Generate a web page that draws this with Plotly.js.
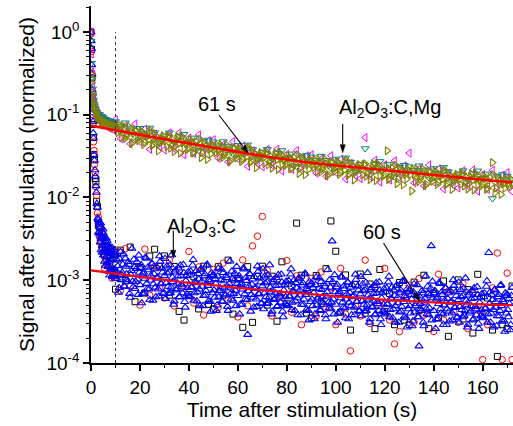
<!DOCTYPE html>
<html>
<head>
<meta charset="utf-8">
<script src="https://cdn.plot.ly/plotly-3.0.1.min.js"></script>
<style>html,body{margin:0;padding:0;background:#fff;}#chart{width:513px;height:426px;}</style>
</head>
<body>
<div id="chart"></div>
<script>
// ---------------- DATA ----------------
// Upper group (Al2O3:C,Mg) values are stored in units of 1e-4 of the normalized signal.
// Lower group (Al2O3:C) values are stored in units of 1e-5 of the normalized signal.
const UPPER_UNIT = 1e-4;
const LOWER_UNIT = 1e-5;

// sample times (s) of the fast initial decay
const tEarly = [0, 0.2, 0.4, 0.6, 0.8, 1.0, 1.2, 1.4, 1.7, 2.0, 2.3, 2.6, 3.0, 3.4, 3.8, 4.2, 4.6, 5.0, 5.5, 6.0, 6.5, 7.0, 7.5, 8.0, 8.5, 9.0, 9.5];
const tEarlyBlue = [0, 0.1, 0.2, 0.3, 0.4, 0.5, 0.6, 0.7, 0.8, 0.9, 1.0, 1.2, 1.4, 1.6, 1.8, 2.0, 2.2, 2.4, 2.6, 2.8, 3.0, 3.25, 3.5, 3.75, 4.0, 4.25, 4.5, 4.75, 5.0, 5.25, 5.5, 5.75, 6.0, 6.25, 6.5, 6.75, 7.0, 7.25, 7.5, 7.75, 8.0, 8.25, 8.5, 8.75, 9.0, 9.25, 9.5, 9.75];
const tEarlyBlue2 = [3.1, 3.4, 3.6, 3.9, 4.1, 4.4, 4.6, 4.9, 5.1, 5.4, 5.6, 5.9, 6.1, 6.4, 6.6, 6.9, 7.1, 7.4, 7.6, 7.9, 8.1, 8.4, 8.6, 8.9, 9.1, 9.4, 9.6, 9.9];
// the slow tails are regularly sampled (start time, step in s)
const OLIVE_A = [10, 1], OLIVE_B = [10.5, 1];
const SPARSE = [10, 2];
const BLUE_A = [10, 0.5], BLUE_B = [10.25, 0.5];

// ---- Al2O3:C,Mg (units 1e-4) ----
const mgMagentaEarly = [10000, 5400, 3300, 2200, 1800, 1550, 1450, 1150, 1230, 980, 1120, 900, 1010, 850, 960, 800, 910, 760, 870, 740, 830, 700, 800, 680, 770, 660, 750];
const mgTealEarly = [7800, 4200, 2700, 2050, 1700, 1500, 1350, 1260, 1180, 1110, 1060, 1020, 990, 1010, 940, 960, 900, 920, 860, 880, 820, 850, 800, 830, 780, 800, 760];
const mgOliveEarly = [3100, 2800, 2450, 1850, 1700, 1420, 1360, 1180, 1150, 1020, 1040, 930, 950, 870, 900, 830, 860, 790, 820, 760, 800, 740, 770, 710, 750, 690, 720];

const mgMagentaTail = [
  875, 513, 735, 446, 775, 469, 671, 382, 586, 411,
  375, 605, 388, 605, 328, 523, 340, 573, 353, 488,
  500, 297, 435, 269, 475, 292, 418, 238, 366, 257,
  235, 381, 245, 384, 209, 334, 218, 370, 229, 319,
  329, 197, 291, 181, 321, 200, 289, 167, 259, 183,
  169, 530, 178, 282, 154, 248, 162, 277, 173, 242,
  344, 150, 222, 138, 247, 153, 222, 127, 198, 141,
  130, 211, 137, 216, 119, 190, 125, 213, 133, 186,
  200, 118];
const mgTealTail = [
  826, 729, 800, 694, 548, 686, 593, 693, 608, 458,
  558, 605, 461, 544, 582, 469, 525, 371, 475, 496,
  472, 422, 474, 419, 336, 427, 369, 432, 380, 286,
  350, 381, 291, 345, 370, 300, 337, 239, 308, 324,
  310, 280, 316, 281, 227, 293, 255, 302, 268, 204,
  252, 390, 212, 253, 273, 223, 251, 179, 233, 246,
  236, 213, 242, 215, 175, 224, 196, 231, 205, 157,
  193, 211, 162, 194, 210, 171, 193, 97, 179, 189,
  182, 164];
const mgOliveTailA = [
  735, 607, 655, 739, 516, 594, 632, 462, 644, 531,
  532, 623, 470, 547, 628, 421, 512, 547, 447, 518,
  507, 411, 560, 441, 359, 508, 449, 552, 393, 448,
  401, 459, 348, 475, 414, 302, 466, 382, 410, 336,
  420, 348, 379, 433, 306, 355, 381, 280, 394, 328,
  331, 387, 292, 341, 391, 263, 320, 342, 280, 325,
  318, 258, 353, 278, 226, 321, 285, 350, 250, 285,
  256, 294, 224, 305, 267, 195, 303, 248, 268, 220,
  276, 230, 251, 288, 204, 238, 256, 189, 267, 224,
  227, 267, 202, 238, 274, 185, 226, 243, 200, 233,
  229, 187, 255, 203, 165, 235, 209, 258, 184, 212,
  190, 367, 167, 229, 200, 147, 229, 188, 203, 167,
  210, 120, 191, 220, 156, 182, 196, 145, 205, 171,
  174, 205, 155, 182, 209, 141, 173, 186, 153, 178,
  175, 143, 195, 155, 127, 180, 161, 198, 142, 162,
  146, 168, 128, 175, 264, 113, 175, 144, 156, 129,
  162, 135, 147];
const mgOliveTailB = [
  660, 750, 534, 665, 555, 720, 448, 596, 631, 486,
  637, 438, 556, 495, 646, 440, 551, 366, 485, 556,
  479, 548, 394, 497, 419, 547, 343, 460, 492, 381,
  502, 346, 438, 390, 509, 347, 435, 288, 383, 438,
  378, 432, 311, 392, 331, 432, 271, 363, 387, 301,
  396, 273, 346, 308, 402, 275, 344, 229, 304, 349,
  300, 344, 248, 313, 264, 346, 218, 292, 312, 243,
  320, 222, 281, 251, 328, 225, 282, 188, 250, 288,
  249, 286, 206, 261, 221, 290, 183, 246, 263, 206,
  272, 189, 240, 215, 282, 194, 243, 163, 217, 251,
  217, 250, 180, 228, 193, 254, 160, 216, 231, 181,
  239, 165, 210, 188, 246, 169, 213, 142, 190, 218,
  189, 218, 157, 199, 169, 222, 139, 188, 202, 157,
  208, 144, 184, 165, 215, 148, 186, 125, 166, 191,
  165, 190, 138, 174, 148, 194, 123, 165, 178, 138,
  183, 126, 161, 144, 189, 130, 163, 109, 146, 168,
  145, 167];

// ---- Al2O3:C (units 1e-5) ----
const cBlackEarly = [100000, 62000, 28000, 16000, 7600, 5300, 3300, 2850, 1700, 1550, 900, 780, 460, 440, 300, 380, 250, 330, 200, 280, 170, 250, 160, 220, 130, 205, 125];
const cRedEarly = [95000, 58000, 32000, 14000, 8600, 4700, 3700, 2500, 2000, 1350, 1050, 650, 580, 340, 420, 270, 360, 220, 140, 180, 260, 150, 240, 140, 106, 120, 195];
const cBlueEarly = [100000, 78000, 63000, 40000, 31000, 20000, 15500, 10500, 8300, 6000, 5200, 3300, 2800, 2150, 1800, 1380, 1150, 840, 760, 560,
  536, 387, 468, 288, 442, 320, 216, 328, 373, 219, 169, 298, 219, 322, 161, 228, 264, 128, 169, 218, 248, 134, 176, 115, 205, 138, 231, 112];
const cBlueEarly2 = [376, 500, 361, 490, 232, 345, 260, 414, 201, 265, 317, 151, 268, 195, 300, 146, 214, 247, 115, 179, 214, 133, 247, 110, 178, 132, 211, 105];

const cBlackTail = [
  78, 231, 99, 252, 55, 143, 70, 196, 237, 148,
  197, 66, 147, 42, 33, 67, 110, 45, 148, 51,
  45, 146, 66, 175, 39, 105, 27, 146, 31, 112,
  148, 50, 112, 32, 167, 52, 85, 490, 115, 40,
  35, 114, 52, 138, 520, 224, 41, 116, 25, 89,
  119, 40, 90, 26, 135, 42, 69, 29, 94, 33,
  29, 95, 43, 115, 26, 70, 35, 98, 21, 76,
  101, 34, 77, 23, 118, 37, 61, 25, 12, 29,
  26, 85];
const cRedTail = [
  233, 75, 241, 84, 143, 50, 238, 66, 146, 82,
  61, 174, 49, 130, 80, 223, 53, 145, 38, 101,
  135, 47, 161, 58, 103, 36, 176, 49, 260, 340,
  590, 132, 37, 99, 62, 173, 41, 113, 29, 79,
  105, 37, 126, 46, 81, 29, 139, 39, 14, 49,
  37, 175, 30, 80, 50, 139, 33, 17, 24, 65,
  87, 31, 105, 38, 68, 24, 118, 33, 74, 42,
  31, 91, 26, 69, 44, 11, 29, 81, 213, 11,
  122, 11];
const cBlueTailA = [
  203, 105, 149, 81, 220, 117, 155, 85, 184, 119, 96, 155, 62, 130, 97, 178, 79, 138, 103, 200,
  88, 153, 69, 125, 105, 183, 79, 133, 58, 114, 158, 90, 137, 63, 105, 78, 196, 91, 139, 69,
  113, 60, 148, 84, 125, 70, 202, 96, 56, 132, 79, 112, 63, 151, 89, 70, 123, 47, 113, 81,
  65, 115, 82, 152, 57, 97, 130, 72, 103, 49, 137, 84, 65, 119, 75, 155, 56, 96, 42, 113,
  117, 62, 91, 50, 139, 75, 101, 56, 123, 80, 66, 107, 43, 91, 69, 128, 57, 100, 75, 146,
  65, 113, 51, 92, 78, 136, 59, 99, 22, 85, 118, 67, 103, 47, 79, 59, 148, 69, 106, 52,
  85, 45, 112, 63, 95, 53, 153, 73, 42, 101, 60, 86, 48, 116, 68, 54, 95, 36, 87, 63,
  50, 89, 64, 118, 44, 75, 101, 56, 80, 38, 106, 66, 51, 93, 59, 121, 44, 75, 33, 88,
  92, 49, 71, 39, 109, 59, 79, 44, 96, 63, 51, 84, 34, 72, 54, 101, 45, 297, 59, 116,
  51, 89, 40, 73, 61, 108, 47, 79, 35, 68, 94, 54, 82, 38, 63, 47, 118, 55, 85, 42,
  68, 37, 90, 51, 76, 43, 123, 59, 34, 81, 48, 69, 38, 93, 55, 43, 76, 29, 70, 51,
  41, 72, 51, 95, 36, 61, 82, 45, 65, 31, 87, 53, 41, 76, 48, 99, 36, 61, 27, 72,
  76, 40, 59, 32, 90, 49, 65, 36, 16, 52, 43, 70, 28, 60, 45, 84, 38, 66, 260, 97,
  43, 75, 34, 62, 52, 91, 40, 67, 29, 57, 80, 45, 70, 32, 54, 40, 101, 47, 72, 35,
  58, 31, 77, 44, 65, 37, 106, 51, 29, 70, 42, 60, 33, 81, 48, 38, 67, 26, 61, 44,
  36, 63, 45, 84, 31, 215, 72, 40, 58, 27, 77, 47, 37, 67, 43, 88, 32, 55, 24, 65,
  68, 36, 52, 29, 81];
const cBlueTailB = [
  131, 175, 71, 181, 101, 124, 207, 84, 147, 101, 167, 69, 118, 242, 83, 145, 96, 167, 67, 124,
  142, 53, 119, 69, 189, 91, 143, 78, 100, 160, 57, 119, 82, 147, 109, 64, 168, 90, 125, 71,
  182, 93, 122, 69, 154, 82, 108, 51, 125, 76, 92, 140, 63, 113, 84, 154, 55, 99, 68, 126,
  63, 128, 83, 177, 70, 93, 56, 120, 78, 135, 97, 49, 112, 66, 151, 86, 101, 55, 123, 70,
  76, 104, 43, 112, 63, 80, 135, 55, 98, 68, 114, 48, 82, 170, 59, 104, 69, 121, 49, 91,
  104, 39, 88, 51, 140, 68, 107, 58, 74, 120, 42, 89, 62, 110, 82, 48, 127, 68, 95, 53,
  137, 70, 92, 52, 117, 62, 82, 39, 95, 58, 70, 107, 49, 87, 64, 118, 42, 76, 52, 97,
  49, 99, 64, 137, 54, 72, 43, 93, 61, 105, 76, 38, 87, 51, 118, 67, 79, 43, 96, 55,
  59, 81, 34, 88, 50, 62, 106, 43, 77, 54, 90, 38, 64, 134, 46, 82, 54, 96, 39, 72,
  83, 31, 69, 41, 111, 54, 85, 46, 59, 95, 34, 71, 49, 88, 66, 38, 102, 55, 76, 43,
  110, 56, 74, 42, 94, 50, 66, 31, 77, 47, 57, 86, 39, 70, 52, 95, 34, 61, 42, 79,
  39, 80, 52, 111, 44, 59, 35, 76, 49, 86, 62, 31, 71, 42, 96, 55, 65, 35, 79, 45,
  49, 67, 28, 72, 41, 52, 88, 36, 64, 45, 75, 31, 54, 112, 39, 69, 46, 80, 33, 61,
  70, 26, 59, 34, 94, 45, 72, 39, 50, 81, 29, 60, 42, 75, 56, 33, 86, 47, 65, 36,
  94, 48, 63, 36, 80, 43, 57, 27, 66, 40, 49, 75, 34, 61, 45, 83, 30, 54, 37, 69,
  35, 70, 46, 98, 39, 52, 31, 67, 44, 76, 55, 28, 63, 37, 86, 49, 58, 32, 70, 40,
  44, 60, 25, 65];

// fitted decay curves (61 s and 60 s)
const fitTime = [0, 10, 20, 30, 40, 50, 60, 70, 80, 90, 100, 110, 120, 130, 140, 150, 160, 172];
const mgFit = [740, 650, 571, 507, 451, 400, 356, 318, 288, 263, 244, 229, 214, 200, 187, 175, 164, 152]; // 1e-4
const cFit = [132, 120, 110, 101, 93, 87, 81, 76, 72, 68, 64, 61, 58, 56, 54, 52.5, 51, 50];           // 1e-5

// axis ticks and texts
const xTickVals = [0, 20, 40, 60, 80, 100, 120, 140, 160];
const yTickVals = [1e-4, 1e-3, 1e-2, 1e-1, 1];
const yTickText = ['10<sup>-4</sup>', '10<sup>-3</sup>', '10<sup>-2</sup>', '10<sup>-1</sup>', '10<sup>0</sup>'];
const xTitle = 'Time after stimulation (s)';
const yTitle = 'Signal after stimulation (normalized)';
const labels = ['61 s', 'Al<sub>2</sub>O<sub>3</sub>:C,Mg', 'Al<sub>2</sub>O<sub>3</sub>:C', '60 s'];

// ---------------- PLOT ----------------
const up = a => a.map(v => v * UPPER_UNIT);
const lo = a => a.map(v => v * LOWER_UNIT);

function mk(color, symbol, size, lw) {
  return { symbol: symbol, size: size, color: color, line: { color: color, width: lw } };
}
const S = {
  black: mk('#000000', 'square-open', 6, 1),
  red: mk('#ff0000', 'circle-open', 6.5, 1),
  blue: mk('#0000ff', 'triangle-up-open', 7, 1.1),
  magenta: mk('#ff00ff', 'triangle-left-open', 7, 1),
  teal: mk('#008080', 'triangle-down-open', 7, 1),
  olive: mk('#808000', 'triangle-right-open', 7, 1.1)
};
function early(x, y, m) { return { type: 'scatter', mode: 'markers', x: x, y: y, marker: m, showlegend: false, hoverinfo: 'skip' }; }
function tail(y, samp, m) { return { type: 'scatter', mode: 'markers', x0: samp[0], dx: samp[1], y: y, marker: m, showlegend: false, hoverinfo: 'skip' }; }

const traces = [
  early(tEarly, lo(cBlackEarly), S.black), tail(lo(cBlackTail), SPARSE, S.black),
  early(tEarly, lo(cRedEarly), S.red), tail(lo(cRedTail), SPARSE, S.red),
  early(tEarlyBlue, lo(cBlueEarly), S.blue), early(tEarlyBlue2, lo(cBlueEarly2), S.blue),
  tail(lo(cBlueTailA), BLUE_A, S.blue), tail(lo(cBlueTailB), BLUE_B, S.blue),
  early(tEarly, up(mgMagentaEarly), S.magenta), tail(up(mgMagentaTail), SPARSE, S.magenta),
  early(tEarly, up(mgTealEarly), S.teal), tail(up(mgTealTail), SPARSE, S.teal),
  early(tEarly, up(mgOliveEarly), S.olive),
  tail(up(mgOliveTailA), OLIVE_A, S.olive), tail(up(mgOliveTailB), OLIVE_B, S.olive),
  { type: 'scatter', mode: 'lines', x: fitTime, y: up(mgFit), line: { color: '#ff0000', width: 2.6, shape: 'spline' }, showlegend: false, hoverinfo: 'skip' },
  { type: 'scatter', mode: 'lines', x: fitTime, y: lo(cFit), line: { color: '#ff0000', width: 2.2, shape: 'spline' }, showlegend: false, hoverinfo: 'skip' }
];

// plot-area geometry in pixels (for placing labels and arrows)
const M = { l: 91, r: 0, t: 6, b: 63 };
const W = 513, H = 426;
const PW = W - M.l - M.r, PH = H - M.t - M.b;
const px = x => (x - M.l) / PW;
const py = y => (H - M.b - y) / PH;

function arrowShapes(tx, ty, hx, hy) {
  const dx = hx - tx, dy = hy - ty, L = Math.hypot(dx, dy);
  const ux = dx / L, uy = dy / L, len = 8, hw = 2.6;
  const bx = hx - ux * len, by = hy - uy * len;
  const p1 = [bx - uy * hw, by + ux * hw], p2 = [bx + uy * hw, by - ux * hw];
  return [
    { type: 'line', xref: 'paper', yref: 'paper', x0: px(tx), y0: py(ty), x1: px(bx), y1: py(by), line: { color: '#000', width: 1.1 } },
    { type: 'path', xref: 'paper', yref: 'paper', fillcolor: '#000', line: { color: '#000', width: 0.5 },
      path: 'M' + px(hx) + ',' + py(hy) + 'L' + px(p1[0]) + ',' + py(p1[1]) + 'L' + px(p2[0]) + ',' + py(p2[1]) + 'Z' }
  ];
}

const FONT = 'Liberation Sans, Arial, Helvetica, sans-serif';
function label(text, x, y) {
  return { text: text, xref: 'paper', yref: 'paper', x: px(x), y: py(y), showarrow: false,
    xanchor: 'center', yanchor: 'middle', font: { family: FONT, size: 20, color: '#000' } };
}

const layout = {
  width: W, height: H, margin: M,
  paper_bgcolor: '#fff', plot_bgcolor: '#fff',
  font: { family: FONT, size: 19, color: '#000' },
  xaxis: {
    range: [0, 172.4], showgrid: false, zeroline: false,
    showline: true, linecolor: '#000', linewidth: 1.5,
    ticks: 'outside', ticklen: 6, tickwidth: 1.5, tickcolor: '#000',
    tickmode: 'array', tickvals: xTickVals,
    minor: { dtick: 10, tick0: 0, ticks: 'outside', ticklen: 3.5, tickwidth: 1.2, tickcolor: '#000' },
    tickfont: { size: 19 },
    title: { text: xTitle, font: { size: 21 }, standoff: 4 }
  },
  yaxis: {
    type: 'log', range: [-4, 0.314], showgrid: false, zeroline: false,
    showline: true, linecolor: '#000', linewidth: 1.5,
    ticks: 'outside', ticklen: 6, tickwidth: 1.5, tickcolor: '#000',
    tickmode: 'array', tickvals: yTickVals, ticktext: yTickText,
    minor: { dtick: 'D1', ticks: 'outside', ticklen: 3.5, tickwidth: 1.2, tickcolor: '#000' },
    tickfont: { size: 19 },
    title: { text: yTitle, font: { size: 21 }, standoff: 6 }
  },
  shapes: [
    { type: 'line', xref: 'x', yref: 'paper', x0: 10, x1: 10, y0: 0, y1: py(32), line: { color: '#333', width: 1, dash: 'dot' } }
  ].concat(
    arrowShapes(219, 115, 248.3, 153.3),
    arrowShapes(342.7, 124, 342.7, 152.7),
    arrowShapes(173.3, 230.7, 173.3, 258.3),
    arrowShapes(383.5, 243, 420, 301.7)
  ),
  annotations: [
    label(labels[0], 217, 103.5),
    label(labels[1], 390, 109),
    label(labels[2], 201, 227),
    label(labels[3], 382, 232)
  ]
};

Plotly.newPlot('chart', traces, layout, { displayModeBar: false, responsive: false });
</script>
</body>
</html>
